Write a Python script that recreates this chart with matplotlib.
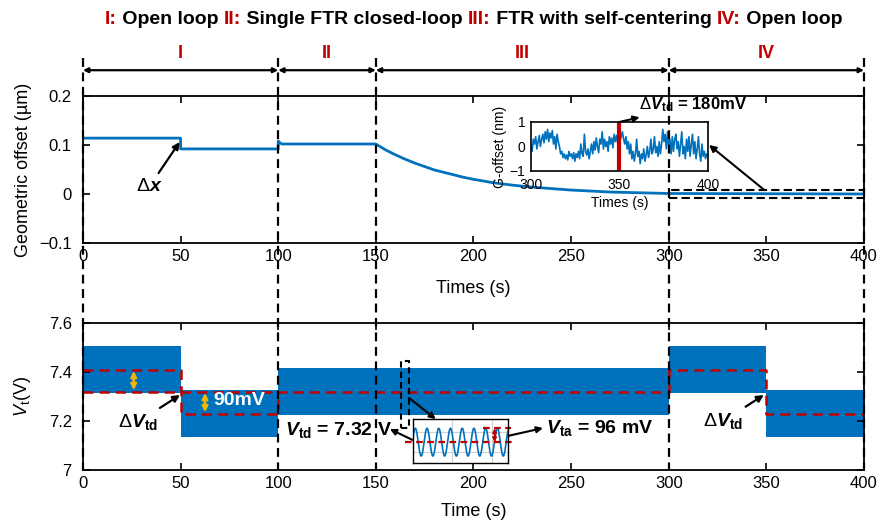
import matplotlib
matplotlib.use("Agg")
import numpy as np
import matplotlib.pyplot as plt
from matplotlib.patches import Rectangle
from matplotlib.transforms import blended_transform_factory

plt.rcParams["font.family"] = ["Liberation Sans", "DejaVu Sans"]
plt.rcParams["mathtext.fontset"] = "custom"
plt.rcParams["mathtext.rm"] = "Liberation Sans"
plt.rcParams["mathtext.it"] = "Liberation Sans:italic"
plt.rcParams["mathtext.bf"] = "Liberation Sans:bold"
plt.rcParams["mathtext.bfit"] = "Liberation Sans:italic:bold"
plt.rcParams["axes.unicode_minus"] = True

BLUE = "#0072BD"
RED = "#C00000"
GOLD = "#F2B705"

# ---- phases ----
phase_bounds = [0, 100, 150, 300, 400]
phase_names = ["I", "II", "III", "IV"]
title_parts = [("I:", RED), (" Open loop ", "k"), ("II:", RED),
               (" Single FTR closed-loop ", "k"), ("III:", RED),
               (" FTR with self-centering ", "k"), ("IV:", RED), (" Open loop", "k")]

# ---- geometric offset (um) ----
offset_t = [0, 50, 50, 100, 100, 101, 102, 150,
            155, 160, 165, 170, 175, 180, 185, 190, 195, 200,
            210, 220, 230, 240, 250, 260, 270, 280, 290, 300, 400]
offset_v = [0.114, 0.114, 0.092, 0.092, 0.108, 0.104, 0.102, 0.102,
            0.090, 0.080, 0.071, 0.063, 0.056, 0.049, 0.044, 0.039, 0.034, 0.030,
            0.023, 0.018, 0.014, 0.011, 0.008, 0.006, 0.004, 0.003, 0.002, 0.001, 0.0]

# ---- zoomed offset 300-400 s (nm) ----
zoom_offset_nm = [
    0.05, -0.2, 0.3, 0.1, 0.4, -0.1, 0.2, 0.45, 0.0, 0.3,
    0.5, 0.15, 0.6, 0.3, 0.7, 0.2, 0.55, 0.35, 0.65, 0.1,
    0.4, -0.1, 0.5, 0.2, 0.0, -0.3, -0.2, -0.45, -0.3, -0.5,
    -0.35, -0.55, -0.2, -0.4, -0.3, -0.5, -0.25, -0.6, -0.3, -0.45,
    -0.2, -0.5, 0.1, -0.3, -0.4, 0.5, -0.2, -0.35, -0.1, -0.5,
    -0.2, 0.1, -0.3, 0.2, -0.15, 0.35, 0.0, -0.25, 0.3, 0.1,
    0.6, -0.1, 0.3, 0.0, 0.2, -0.2, 0.4, 0.1, 0.35, -0.05,
    0.5, 0.2, 0.45, 0.15, 0.55, 0.25, 0.4, 0.6, 0.3, 0.1,
    0.4, -0.1, 0.2, -0.3, 0.1, -0.5, -0.2, -0.6, -0.3, 0.3,
    -0.4, -0.2, -0.7, -0.3, -0.5, -0.1, -0.6, -0.35, 0.0, -0.45,
    -0.2, 0.3, -0.3, -0.1, 0.4, -0.25, 0.0, -0.4, 0.2, -0.3,
    0.1, 0.7, 0.2, 0.5, -0.1, 0.6, 0.0, 0.3, -0.3, 0.4,
    -0.2, 0.3, 0.5, -0.1, 0.2, -0.4, 0.1, 0.6, -0.3, 0.0,
    -0.5, 0.3, -0.2, 0.4, -0.4, 0.1, 0.5, -0.3, 0.2, -0.5,
    -0.1, 0.4, -0.3, -0.6, 0.1, -0.4, -0.2, -0.5, -0.3, -0.4,
]
dv_td_time = 350

# ---- drive voltage ----
seg_edges = [0, 50, 100, 300, 350, 400]
v_td = [7.41, 7.23, 7.32, 7.41, 7.23]
v_td_ref = 7.32
v_ta = 0.096
n_cycles_zoom = 8.1


def style_axes(ax, size=12):
    ax.tick_params(direction="in", top=True, right=True, length=5,
                   width=1.2, labelsize=size)
    ax.tick_params(axis="y", pad=8)
    ax.tick_params(axis="x", pad=4)
    for s in ax.spines.values():
        s.set_linewidth(1.3)


fig = plt.figure(figsize=(8.78, 5.24), dpi=100)
ax_top = fig.add_axes([0.0945, 0.5363, 0.8895, 0.2805])
ax_bot = fig.add_axes([0.0945, 0.1031, 0.8895, 0.2805])

# ---- top panel ----
ax_top.plot(offset_t, offset_v, color=BLUE, lw=2)
ax_top.set_xlim(0, 400)
ax_top.set_ylim(-0.1, 0.2)
ax_top.set_xticks(range(0, 401, 50))
ax_top.set_yticks([-0.1, 0, 0.1, 0.2])
ax_top.set_yticklabels(["\u22120.1", "0", "0.1", "0.2"])
ax_top.set_xlabel("Times (s)", fontsize=13, labelpad=12)
ax_top.set_ylabel("Geometric offset (\u00b5m)", fontsize=13, labelpad=5)
style_axes(ax_top)

ax_top.annotate(r"$\Delta\mathbfit{x}$", xy=(49.5, 0.106), xytext=(34, 0.015),
                ha="center", va="center", fontsize=14,
                arrowprops=dict(arrowstyle="-|>", color="k", lw=1.6,
                                mutation_scale=10, shrinkA=2, shrinkB=0))

ax_top.add_patch(Rectangle((300, -0.008), 100, 0.016, fill=False, ec="k",
                           lw=1.5, ls=(0, (4, 2)), zorder=5, clip_on=False))

ax_in = ax_top.inset_axes([0.5736, 0.4898, 0.2266, 0.3333])
ax_in.plot(np.linspace(300, 400, len(zoom_offset_nm)), zoom_offset_nm,
           color=BLUE, lw=1.2)
ax_in.axvline(dv_td_time, color=RED, lw=3)
ax_in.set_xlim(300, 400)
ax_in.set_ylim(-1, 1)
ax_in.set_xticks([300, 350, 400])
ax_in.set_yticks([-1, 0, 1])
ax_in.set_yticklabels(["\u22121", "0", "1"])
ax_in.tick_params(direction="in", length=0, labelsize=10)
ax_in.tick_params(axis="x", pad=5)
ax_in.tick_params(axis="y", pad=4)
ax_in.set_xlabel("Times (s)", fontsize=10, labelpad=3)
ax_in.set_ylabel("G-offset (nm)", fontsize=10, labelpad=2)
for s in ax_in.spines.values():
    s.set_linewidth(1.2)

ax_in.annotate(r"$\Delta\mathbfit{V}_{\mathbf{td}}$ = 180mV", xy=(dv_td_time, 1.0),
               xytext=(361, 1.7), ha="left", va="center", fontsize=12,
               fontweight="bold", annotation_clip=False,
               arrowprops=dict(arrowstyle="<|-", color="k", lw=1.5,
                               mutation_scale=9, shrinkA=1, shrinkB=0))
ax_top.annotate("", xy=(1.0, 0.55), xycoords=ax_in.transAxes,
                xytext=(349, 0.008), textcoords="data",
                arrowprops=dict(arrowstyle="-|>", color="k", lw=1.5,
                                mutation_scale=10, shrinkA=0, shrinkB=1))

# ---- bottom panel ----
for i in range(len(v_td)):
    x0, x1 = seg_edges[i], seg_edges[i + 1]
    ax_bot.fill_between([x0, x1], v_td[i] - v_ta, v_td[i] + v_ta,
                        color=BLUE, lw=0)

step_x = [seg_edges[0]]
step_y = [v_td[0]]
for i in range(len(v_td)):
    step_x += [seg_edges[i], seg_edges[i + 1]]
    step_y += [v_td[i], v_td[i]]
ax_bot.plot(step_x, step_y, color=RED, lw=1.8, ls=(0, (4, 2.5)))
ax_bot.plot([0, 100], [v_td_ref, v_td_ref], color=RED, lw=1.8, ls=(0, (4, 2.5)))

ax_bot.set_xlim(0, 400)
ax_bot.set_ylim(7.0, 7.6)
ax_bot.set_xticks(range(0, 401, 50))
ax_bot.set_yticks([7.0, 7.2, 7.4, 7.6])
ax_bot.set_yticklabels(["7", "7.2", "7.4", "7.6"])
ax_bot.set_xlabel("Time (s)", fontsize=13, labelpad=9)
ax_bot.set_ylabel(r"$V_{\mathrm{t}}$(V)", fontsize=13, labelpad=11)
style_axes(ax_bot)

# gold arrows showing the step size
gold = dict(arrowstyle="<|-|>", color=GOLD, lw=1.8, mutation_scale=8,
            shrinkA=1, shrinkB=1)
ax_bot.annotate("", xy=(26, v_td[0]), xytext=(26, v_td_ref), arrowprops=gold)
ax_bot.annotate("", xy=(62.5, v_td_ref), xytext=(62.5, v_td[1]), arrowprops=gold)
ax_bot.text(67, 7.284, "90mV", color="white", fontsize=14, fontweight="bold",
            ha="left", va="center")

dv_arrow = dict(arrowstyle="-|>", color="k", lw=1.6, mutation_scale=10,
                shrinkA=2, shrinkB=0)
ax_bot.annotate(r"$\Delta\mathbfit{V}_{\mathbf{td}}$", xy=(49.7, 7.306),
                xytext=(28, 7.195), ha="center", va="center", fontsize=14,
                arrowprops=dv_arrow)
ax_bot.annotate(r"$\Delta\mathbfit{V}_{\mathbf{td}}$", xy=(348.7, 7.306),
                xytext=(328, 7.2), ha="center", va="center", fontsize=14,
                arrowprops=dv_arrow)

ax_bot.text(103.5, 7.163, r"$\mathbfit{V}_{\mathbf{td}}$ = 7.32 V", fontsize=14,
            fontweight="bold", ha="left", va="center")
ax_bot.text(237, 7.171, r"$\mathbfit{V}_{\mathbf{ta}}$ = 96 mV", fontsize=14,
            fontweight="bold", ha="left", va="center")

ax_bot.add_patch(Rectangle((163, 7.17), 4, 0.275, fill=False, ec="k", lw=1.5,
                           ls=(0, (3, 2)), zorder=5))

# zoom on the drive oscillation
ax_sm = ax_bot.inset_axes([0.4225, 0.0476, 0.1216, 0.299])
tt = np.linspace(0, 1, 600)
ax_sm.plot(tt, v_td_ref + v_ta * np.sin(2 * np.pi * n_cycles_zoom * tt + 0.3),
           color=BLUE, lw=1.2)
ax_sm.set_xlim(0, 1)
ax_sm.set_ylim(v_td_ref - 0.144, v_td_ref + 0.16)
ax_sm.set_xticks([0.41, 0.83])
ax_sm.set_yticks([v_td_ref - 0.07, v_td_ref + 0.07])
ax_sm.set_xticklabels([])
ax_sm.set_yticklabels([])
ax_sm.tick_params(length=0)
ax_sm.grid(True, color="#d0d0d0", lw=0.8)
for s in ax_sm.spines.values():
    s.set_linewidth(1.0)
ax_sm.plot([-0.08, 1.07], [v_td_ref, v_td_ref], color=RED, lw=1.6,
           ls=(0, (3, 2)), clip_on=False)
ax_sm.plot([0.74, 1.03], [v_td_ref + v_ta, v_td_ref + v_ta], color=RED, lw=1.6,
           ls=(0, (3, 2)), clip_on=False)
ax_sm.annotate("", xy=(0.86, v_td_ref + v_ta), xytext=(0.86, v_td_ref),
               arrowprops=dict(arrowstyle="<|-|>", color=RED, lw=1.2,
                               mutation_scale=6, shrinkA=0, shrinkB=0))

ax_bot.annotate("", xy=(157.2, 7.167), xytext=(0.0, 0.52),
                textcoords=ax_sm.transAxes,
                arrowprops=dict(arrowstyle="-|>", color="k", lw=1.5,
                                mutation_scale=9, shrinkA=0, shrinkB=0))
ax_bot.annotate("", xy=(235.6, 7.171), xytext=(0.947, 0.59),
                textcoords=ax_sm.transAxes,
                arrowprops=dict(arrowstyle="-|>", color="k", lw=1.5,
                                mutation_scale=9, shrinkA=0, shrinkB=0))
ax_bot.annotate("", xy=(0.24, 1.0), xycoords=ax_sm.transAxes,
                xytext=(167, 7.294), textcoords="data",
                arrowprops=dict(arrowstyle="-|>", color="k", lw=1.5,
                                mutation_scale=9, shrinkA=0, shrinkB=0))

# ---- phase markers spanning both panels ----
trans = blended_transform_factory(ax_top.transData, fig.transFigure)
for xb in phase_bounds:
    fig.add_artist(plt.Line2D([xb, xb], [0.889, 0.1031], transform=trans,
                              color="k", lw=1.6, ls=(0, (4, 2.5)), zorder=10))
for i, name in enumerate(phase_names):
    a, b = phase_bounds[i], phase_bounds[i + 1]
    ax_top.annotate("", xy=(a, 0.866), xytext=(b, 0.866), xycoords=trans,
                    textcoords=trans, annotation_clip=False,
                    arrowprops=dict(arrowstyle="<|-|>", color="k", lw=1.6,
                                    mutation_scale=7, shrinkA=0, shrinkB=0))
    ax_top.text((a + b) / 2, 0.897, name, transform=trans, ha="center",
                va="center", color=RED, fontsize=13, fontweight="bold")

# ---- legend-style header ----
renderer = fig.canvas.get_renderer()
x = 105 / 878
for s, c in title_parts:
    t = fig.text(x, 0.962, s, color=c, fontsize=14, fontweight="bold",
                 ha="left", va="center")
    x = t.get_window_extent(renderer).x1 / fig.bbox.width

fig.savefig("out.png", dpi=100)
